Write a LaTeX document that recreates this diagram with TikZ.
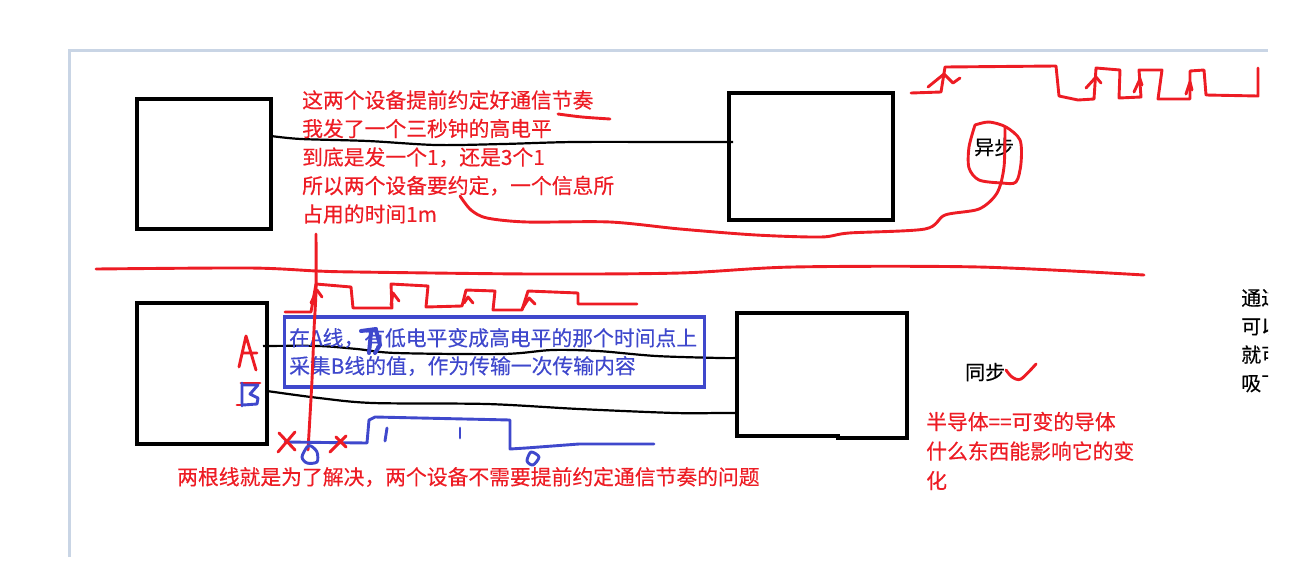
\documentclass[tikz,border=0pt]{standalone}
\usepackage{fontspec}
\setmainfont[FakeBold=0.35]{Noto Sans CJK SC}
\definecolor{penred}{HTML}{ED1C24}
\definecolor{penblue}{HTML}{3F48CC}
\definecolor{framegray}{HTML}{C9D5E5}

\begin{document}
\begin{tikzpicture}[x=1pt, y=-1pt,
    devbox/.style={draw=black, line width=3.4pt, inner sep=0pt, outer sep=0pt},
    wire/.style={black, line width=2.2pt},
    redpen/.style={penred, line width=2.9pt, line join=round, line cap=round},
    bluepen/.style={penblue, line width=2.9pt, line join=round, line cap=round},
    redtext/.style={text=penred, align=left, anchor=west, inner sep=0pt,
      font=\fontsize{20.8}{28.5}\selectfont},
    bluetext/.style={text=penblue, align=left, anchor=west, inner sep=0pt,
      font=\fontsize{20.8}{28}\selectfont},
    blacktext/.style={text=black, align=left, anchor=west, inner sep=0pt,
      font=\fontsize{20}{28.4}\selectfont}]
  \useasboundingbox (0,0) rectangle (1313,584);
  % Page frame.
  \draw[framegray, line width=3pt] (69.5,557) -- (69.5,50.5) -- (1268,50.5);
  % Devices, upper and lower.
  \node[devbox, minimum width=134pt, minimum height=130pt] (asyncL) at (204,164) {};
  \node[devbox, minimum width=164pt, minimum height=127pt] (asyncR) at (811,156.5) {};
  \node[devbox, minimum width=130pt, minimum height=141pt] (syncL) at (202,373.5) {};
  \node[minimum width=170pt, minimum height=125pt, inner sep=0pt, outer sep=0pt] (syncR) at (822,375.5) {};
  \draw[black, line width=3.4pt, line join=miter] (syncR.north west) -- (syncR.north east)
    -- (syncR.south east) -- (838,438) -- (838,436) -- (737,436) -- cycle;
  % Where the wires leave the boxes.
  \coordinate (asyncLout) at (271,136);
  \coordinate (asyncRin)  at (733,142);
  \coordinate (lineAout)  at (263,346);
  \coordinate (lineAin)   at (737,358);
  \coordinate (lineBout)  at (267,391);
  \coordinate (lineBin)   at (737,413);
  \draw[wire] plot[smooth] coordinates {(asyncLout) (301,139) (368,141) (436,145) (503,144) (574,142) (680,142) (asyncRin)};
  \draw[wire] plot[smooth] coordinates {(lineAout) (319,346) (357,349) (396,353) (503,354) (552,350) (598,351) (656,356) (720,358) (lineAin)};
  \draw[wire] plot[smooth] coordinates {(lineBout) (319,398) (373,403) (487,404) (579,409) (675,413) (720,413) (lineBin)};
  % Notes.
  \node[redtext] (noteTop) at (302,157) {这两个设备提前约定好通信节奏\\我发了一个三秒钟的高电平\\到底是发一个1，还是3个1\\所以两个设备要约定，一个信息所\\占用的时间1m};
  \node[redtext] (noteBottom) at (177,477) {两根线就是为了解决，两个设备不需要提前约定通信节奏的问题};
  \node[redtext, font=\fontsize{20.8}{29.5}\selectfont] (noteSemi) at (926,451) {半导体==可变的导体\\什么东西能影响它的变\\化};
  \node[bluetext] (noteBlue) at (289,352) {在A线，有低电平变成高电平的那个时间点上\\采集B线的值，作为传输一次传输内容};
  \node[blacktext] (labelAsync) at (974,147) {异步};
  \node[blacktext] (labelSync) at (965,372) {同步};
  % Text cut off by the page edge.
  \begin{scope}
    \clip (1230,280) rectangle (1268,400);
    \node[blacktext] (noteCut) at (1241,340.5) {通过\\可以\\就可\\吸下};
  \end{scope}
  % Blue frame round the note.
  \draw[penblue, line width=3.2pt] (284.5,317) rectangle (704.5,387);
  % Separator and hand marks.
  \draw[redpen] plot[smooth] coordinates {(96,269) (250,268) (317,271) (357,272) (534,274) (680,273) (793,267) (979,267) (1144,275)};
  \draw[redpen] plot[smooth] coordinates {(558,114) (582,117) (610,119)};
  \draw[redpen] plot[smooth] coordinates {(460,196) (471,210) (487,218) (527,222) (610,222) (680,229) (756,235) (821,237) (849,233) (925,229) (945,215) (979,209) (997,193) (1004,167) (1005,127)};
  \draw[redpen] plot[smooth] coordinates {(975,125) (969,147) (969,168) (979,180) (1002,183) (1016,182) (1021,163) (1020,140) (1006,127) (989,122) (975,125)};
  \draw[redpen] plot[smooth] coordinates {(1006,370) (1012,377) (1021,379) (1036,364)};
  % Upper waveform.
  \draw[redpen] (911,93) -- (941,92) -- (945,67) -- (1056,66) -- (1059,96) -- (1078,100) -- (1094,99) -- (1096,68)
    -- (1120,70) -- (1119,98) -- (1141,97) -- (1139,70) -- (1162,70) -- (1158,99) -- (1190,99) -- (1190,71)
    -- (1204,70) -- (1206,95) -- (1258,96) -- (1258,68);
  \draw[redpen] (928,87) -- (944,74) -- (953,83) -- (960,78);
  \draw[redpen] (1086,88) -- (1096,77) -- (1101,83);
  \draw[redpen] (1134,92) -- (1140,79) -- (1142,85);
  \draw[redpen] (1186,94) -- (1190,82) -- (1192,90);
  % Lower waveform and its sampling line.
  \draw[redpen] (285,312) -- (311,312) -- (316,284) -- (351,287) -- (353,308) -- (392,308) -- (391,284) -- (428,286)
    -- (426,307) -- (462,306) -- (466,290) -- (495,291) -- (493,310) -- (522,310) -- (528,291) -- (578,293)
    -- (578,304) -- (637,304);
  \draw[redpen] plot[smooth] coordinates {(316,234) (316,290) (314,330) (312,380) (308,450)};
  \draw[redpen] (311,303) -- (317,290) -- (322,297);
  \draw[redpen] (391,305) -- (393,293) -- (399,301);
  \draw[redpen] (464,303) -- (468,297) -- (473,303);
  \draw[redpen] (522,309) -- (529,298) -- (535,304);
  % Blue data line.
  \draw[bluepen] (285,442) -- (367,443) -- (369,420) -- (375,417) -- (510,420) -- (510,449) -- (526,448) -- (579,444) -- (654,444);
  \draw[bluepen] (387,428) -- (385,441);
  \draw[bluepen] (460,428) -- (460,438);
  \draw[bluepen] plot[smooth cycle] coordinates {(531,452) (527,461) (533,465) (539,457)};
  \draw[bluepen] plot[smooth cycle] coordinates {(307,447) (302,457) (307,463) (317,462) (317,452) (311,446)};
  % Crosses.
  \draw[redpen] (279,433) -- (295,450) (295,432) -- (278,452);
  \draw[redpen] (346,436) -- (330,452) (336,437) -- (346,447);
  % Line names.
  \draw[redpen] (239,367) -- (246,336) -- (256,370) (242,353) -- (257,353);
  \draw[redpen] (241,383) -- (260,383) (237,405) -- (243,405);
  \draw[bluepen] (242,383) -- (242,406) (244,385) -- (258,385) -- (250,394) -- (258,398) -- (257,404) -- (243,405);
  % Overwritten character.
  \draw[penblue, line width=4pt, line cap=round] (361,331) -- (376,329) (371,332) -- (369,353) (376,330) -- (380,345) -- (375,353);
\end{tikzpicture}
\end{document}
